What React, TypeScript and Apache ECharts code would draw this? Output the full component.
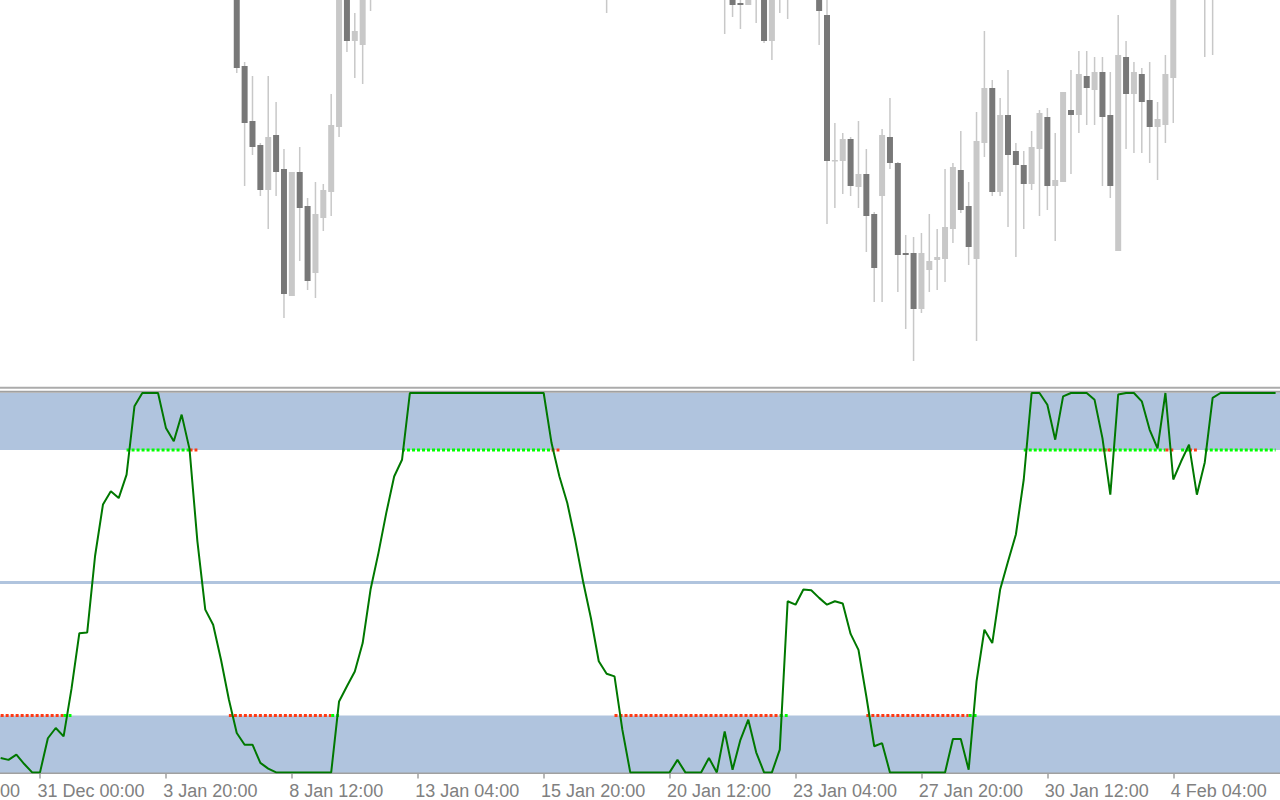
import React, { useEffect, useRef } from "react";
import * as echarts from "echarts";

// ---------------- data ----------------
const barCount = 163;

const tickBars = [5, 21, 37, 53, 69, 85, 101, 117, 133, 149];
const tickLabels = [
  "31 Dec 00:00",
  "3 Jan 20:00",
  "8 Jan 12:00",
  "13 Jan 04:00",
  "15 Jan 20:00",
  "20 Jan 12:00",
  "23 Jan 04:00",
  "27 Jan 20:00",
  "30 Jan 12:00",
  "4 Feb 04:00",
];
const cutLabelTail = "00";

const candleBars = [
  30, 31, 32, 33, 34, 35, 36, 37, 38, 39, 40, 41, 42, 43, 44, 45, 46, 47,
  77,
  92, 93, 94, 95, 96, 97, 98, 99, 100,
  104, 105, 106, 107, 108, 109, 110, 111, 112, 113, 114, 115, 116, 117, 118, 119,
  120, 121, 122, 123, 124, 125, 126, 127, 128, 129, 130, 131, 132, 133, 134, 135,
  136, 137, 138, 139, 140, 141, 142, 143, 144, 145, 146, 147, 148, 149,
  153, 154,
];
const candleOpen = [
  1.2411, 1.2320, 1.2265, 1.2241, 1.2196, 1.2251, 1.2217, 1.2090, 1.2214, 1.2180, 1.2113, 1.2168, 1.2194, 1.2259, 1.2401, 1.2345, 1.2341, 1.2396,
  1.2394,
  1.2391, 1.2406, 1.2383, 1.2381, 1.2394, 1.2396, 1.2345, 1.2391, 1.2404,
  1.2416, 1.2371, 1.2225, 1.2225, 1.2247, 1.2199, 1.2212, 1.2172, 1.2190, 1.2249, 1.2223, 1.2133, 1.2133, 1.2077, 1.2116, 1.2126,
  1.2127, 1.2157, 1.2216, 1.2180, 1.2127, 1.2243, 1.2298, 1.2194, 1.2271, 1.2235, 1.2221, 1.2202, 1.2237, 1.2269, 1.2200, 1.2204,
  1.2276, 1.2271, 1.2310, 1.2296, 1.2314, 1.2271, 1.2135, 1.2329, 1.2292, 1.2312, 1.2286, 1.2259, 1.2261, 1.2308,
  1.2396, 1.2401,
];
const candleHigh = [
  1.2416, 1.2324, 1.2310, 1.2243, 1.2310, 1.2284, 1.2237, 1.2214, 1.2239, 1.2188, 1.2204, 1.2202, 1.2292, 1.2416, 1.2411, 1.2373, 1.2416, 1.2436,
  1.2426,
  1.2421, 1.2416, 1.2396, 1.2411, 1.2421, 1.2406, 1.2411, 1.2416, 1.2414,
  1.2426, 1.2391, 1.2263, 1.2253, 1.2249, 1.2265, 1.2237, 1.2174, 1.2257, 1.2288, 1.2224, 1.2151, 1.2149, 1.2153, 1.2172, 1.2157,
  1.2217, 1.2223, 1.2255, 1.2204, 1.2274, 1.2355, 1.2306, 1.2288, 1.2316, 1.2243, 1.2235, 1.2255, 1.2276, 1.2278, 1.2253, 1.2294,
  1.2316, 1.2335, 1.2335, 1.2329, 1.2329, 1.2314, 1.2371, 1.2345, 1.2324, 1.2318, 1.2324, 1.2284, 1.2331, 1.2426,
  1.2426, 1.2431,
];
const candleLow = [
  1.2313, 1.2200, 1.2231, 1.2190, 1.2157, 1.2190, 1.2068, 1.2090, 1.2125, 1.2096, 1.2088, 1.2155, 1.2170, 1.2249, 1.2334, 1.2308, 1.2302, 1.2375,
  1.2373,
  1.2352, 1.2369, 1.2357, 1.2381, 1.2363, 1.2343, 1.2326, 1.2373, 1.2367,
  1.2341, 1.2162, 1.2178, 1.2192, 1.2190, 1.2178, 1.2134, 1.2084, 1.2084, 1.2217, 1.2094, 1.2057, 1.2025, 1.2073, 1.2094, 1.2096,
  1.2104, 1.2143, 1.2173, 1.2121, 1.2045, 1.2229, 1.2190, 1.2190, 1.2159, 1.2129, 1.2157, 1.2196, 1.2170, 1.2176, 1.2145, 1.2204,
  1.2212, 1.2253, 1.2261, 1.2261, 1.2200, 1.2188, 1.2135, 1.2237, 1.2233, 1.2233, 1.2223, 1.2206, 1.2243, 1.2263,
  1.2329, 1.2331,
];
const candleClose = [
  1.2318, 1.2263, 1.2239, 1.2196, 1.2249, 1.2214, 1.2092, 1.2214, 1.2178, 1.2105, 1.2172, 1.2196, 1.2261, 1.2406, 1.2345, 1.2355, 1.2406, 1.2426,
  1.2416,
  1.2411, 1.2381, 1.2381, 1.2401, 1.2411, 1.2345, 1.2398, 1.2406, 1.2392,
  1.2375, 1.2225, 1.2226, 1.2247, 1.2200, 1.2212, 1.2170, 1.2118, 1.2251, 1.2223, 1.2131, 1.2131, 1.2077, 1.2133, 1.2125, 1.2129,
  1.2159, 1.2219, 1.2176, 1.2139, 1.2245, 1.2298, 1.2194, 1.2271, 1.2231, 1.2221, 1.2202, 1.2239, 1.2273, 1.2200, 1.2206, 1.2294,
  1.2271, 1.2312, 1.2298, 1.2314, 1.2269, 1.2200, 1.2331, 1.2292, 1.2314, 1.2284, 1.2259, 1.2267, 1.2312, 1.2416,
  1.2416, 1.2421,
];

const oscillator = [
  3.8, 3.3, 4.7, 2.2, 0, 0, 9.0, 11.7, 9.5, 22, // 0-9
  36.7, 36.9, 57.1, 70.6, 74.1, 72.3, 78.5, 96.5, 100, 100, // 10-19
  100, 90.8, 87.3, 94.3, 85.2, 60.9, 42.9, 38.9, 29.7, 19.2, // 20-29
  10.4, 7.3, 7.3, 2.5, 1.0, 0, 0, 0, 0, 0, // 30-39
  0, 0, 0, 18.7, 22.7, 26.6, 34.1, 48.2, 57.8, 68.4, // 40-49
  78.0, 82.4, 100, 100, 100, 100, 100, 100, 100, 100, // 50-59
  100, 100, 100, 100, 100, 100, 100, 100, 100, 100, // 60-69
  86.8, 78.0, 71.0, 61.3, 50.4, 40.7, 29.3, 26.0, 25.3, 11.2, // 70-79
  0, 0, 0, 0, 0, 0, 3.3, 0, 0, 0, // 80-89
  3.8, 0, 10.8, 0.7, 8.6, 13.9, 5.3, 0, 0, 6.0, // 90-99
  45.1, 44.2, 48.2, 48.0, 46.0, 44.2, 45.1, 44.5, 36.5, 32.3, // 100-109
  20.0, 6.9, 7.7, 0, 0, 0, 0, 0, 0, 0, // 110-119
  0, 8.8, 8.8, 0.7, 24.0, 37.6, 34.1, 48.2, 55.6, 62.7, // 120-129
  77.2, 100, 100, 96.9, 87.7, 99.1, 100, 100, 100, 98.2, // 130-139
  88.1, 73.2, 99.6, 100, 100, 97.8, 90.3, 85.4, 100, 77.2, // 140-149
  82.0, 86.4, 73.2, 81.7, 98.7, 100, 100, 100, 100, 100, // 150-159
  100, 100, 100, // 160-162
];

const upperLevel = 85;
const middleLevel = 50;
const lowerLevel = 15;
const scaleMin = 0;
const scaleMax = 100;

// ---------------- styling constants ----------------
const BAR_PX = 7.87;
const FIRST_BAR_X = 0.65;
const W = 1280;
const xMin = -FIRST_BAR_X / BAR_PX;
const xMax = xMin + W / BAR_PX;
const LABEL_SHIFT_BARS = -0.33; // labels start ~2.6px left of their tick

const BULL = "#c8c8c8";
const BEAR = "#787878";
const WICK = "#c8c8c8";
const BAND = "#b0c4de";
const LINE = "#007800";
const DOT_GREEN = "#00ff00";
const DOT_RED = "#ff3a14";
const GREY = "#a0a0a0";
const LABEL = "#808080";
const FONT = "Liberation Sans";
const FONT_SIZE = 18;
const LABEL_LINE_H = 13;
const LABEL_MARGIN = 10;

export default function App() {
  const ref = useRef<HTMLDivElement>(null);

  useEffect(() => {
    if (!ref.current) return;
    const chart = echarts.init(ref.current, null, { renderer: "svg" });
    const n = oscillator.length;

    const segUpGreen = (i: number) => i > 0 && i < n && oscillator[i] >= upperLevel;
    const segUpRed = (i: number) =>
      i > 0 && i < n && oscillator[i] < upperLevel && oscillator[i - 1] >= upperLevel;
    const segLoRed = (i: number) => i > 0 && i < n && oscillator[i] <= lowerLevel;
    const segLoGreen = (i: number) =>
      i > 0 && i < n && oscillator[i] > lowerLevel && oscillator[i - 1] <= lowerLevel;
    const levelSeries = (seg: (i: number) => boolean, level: number) =>
      oscillator.map((_, i) => [i, seg(i) || seg(i + 1) ? level : "-"]);

    const candleData = candleBars.map((b, k) => [
      b,
      candleOpen[k],
      candleClose[k],
      candleLow[k],
      candleHigh[k],
    ]);

    const labelValues = tickBars.map((b) => b + LABEL_SHIFT_BARS);

    const dotted = (color: string, data: any[]) => ({
      type: "line",
      xAxisIndex: 1,
      yAxisIndex: 1,
      data,
      showSymbol: false,
      symbol: "none",
      silent: true,
      z: 2,
      lineStyle: { color, width: 3, type: [3, 2], cap: "butt" },
    });

    const option: any = {
      animation: false,
      backgroundColor: "#ffffff",
      textStyle: { fontFamily: FONT, fontSize: FONT_SIZE, color: LABEL },
      grid: [
        { left: 0, right: 0, top: 0, height: 386, outerBoundsMode: "none", containLabel: false },
        { left: 0, right: 0, top: 393, bottom: 27.6, outerBoundsMode: "none", containLabel: false },
      ],
      xAxis: [
        {
          type: "value",
          gridIndex: 0,
          min: xMin,
          max: xMax,
          show: false,
        },
        {
          type: "value",
          gridIndex: 1,
          min: xMin,
          max: xMax,
          offset: 2,
          axisLine: { show: true, lineStyle: { color: GREY, width: 2 } },
          axisTick: {
            show: true,
            customValues: tickBars,
            length: 6,
            lineStyle: { color: GREY, width: 1.5 },
          },
          axisLabel: {
            show: true,
            customValues: labelValues,
            formatter: (v: number) => {
              const k = tickBars.indexOf(Math.round(v));
              return k >= 0 ? tickLabels[k] : "";
            },
            align: "left",
            margin: LABEL_MARGIN,
            lineHeight: LABEL_LINE_H,
            color: LABEL,
            fontFamily: FONT,
            fontSize: FONT_SIZE,
          },
          splitLine: { show: false },
        },
      ],
      yAxis: [
        { type: "value", gridIndex: 0, min: 1.2, max: 1.2386, show: false },
        { type: "value", gridIndex: 1, min: scaleMin, max: scaleMax, show: false },
      ],
      graphic: [
        { type: "rect", shape: { x: 0, y: 386.7, width: W, height: 2 }, style: { fill: "#ababab" }, silent: true },
        { type: "rect", shape: { x: 0, y: 390.7, width: W, height: 2 }, style: { fill: GREY }, silent: true },
        {
          type: "text",
          x: 0,
          y: 774.3 + LABEL_MARGIN,
          style: {
            text: cutLabelTail,
            fill: LABEL,
            fontFamily: FONT,
            fontSize: FONT_SIZE,
            lineHeight: LABEL_LINE_H,
            verticalAlign: "top",
          },
          silent: true,
        },
      ],
      series: [
        {
          type: "custom",
          xAxisIndex: 0,
          yAxisIndex: 0,
          clip: true,
          silent: true,
          data: candleData,
          encode: { x: 0, y: [1, 2, 3, 4] },
          renderItem: (params: any, api: any) => {
            const x = api.value(0);
            const o = api.value(1);
            const c = api.value(2);
            const l = api.value(3);
            const h = api.value(4);
            const pO = api.coord([x, o]);
            const pC = api.coord([x, c]);
            const pL = api.coord([x, l]);
            const pH = api.coord([x, h]);
            const bull = c >= o;
            const top = Math.min(pO[1], pC[1]);
            const bh = Math.max(Math.abs(pO[1] - pC[1]), 1.5);
            return {
              type: "group",
              children: [
                {
                  type: "line",
                  shape: { x1: pH[0], y1: pH[1], x2: pL[0], y2: pL[1] },
                  style: { stroke: WICK, lineWidth: 1.5 },
                },
                {
                  type: "rect",
                  shape: { x: pO[0] - 3, y: top, width: 6, height: bh },
                  style: { fill: bull ? BULL : BEAR },
                },
              ],
            };
          },
        },
        dotted(DOT_RED, levelSeries(segLoRed, lowerLevel)),
        dotted(DOT_GREEN, levelSeries(segLoGreen, lowerLevel)),
        dotted(DOT_GREEN, levelSeries(segUpGreen, upperLevel)),
        dotted(DOT_RED, levelSeries(segUpRed, upperLevel)),
        {
          type: "line",
          xAxisIndex: 1,
          yAxisIndex: 1,
          data: oscillator.map((v, i) => [i, v]),
          showSymbol: false,
          symbol: "none",
          silent: true,
          z: 3,
          lineStyle: { color: LINE, width: 2 },
          markArea: {
            silent: true,
            z: 1,
            itemStyle: { color: BAND, opacity: 1 },
            data: [
              [{ yAxis: scaleMin }, { yAxis: lowerLevel }],
              [{ yAxis: upperLevel }, { yAxis: scaleMax }],
            ],
          },
          markLine: {
            silent: true,
            z: 1,
            symbol: "none",
            label: { show: false },
            lineStyle: { color: BAND, width: 3, type: "solid" },
            data: [{ yAxis: middleLevel }],
          },
        },
      ],
    };

    chart.setOption(option);
    return () => chart.dispose();
  }, []);

  return (
    <div
      ref={ref}
      style={{ position: "fixed", left: 0, top: 0, width: 1280, height: 800, background: "#fff" }}
    />
  );
}
